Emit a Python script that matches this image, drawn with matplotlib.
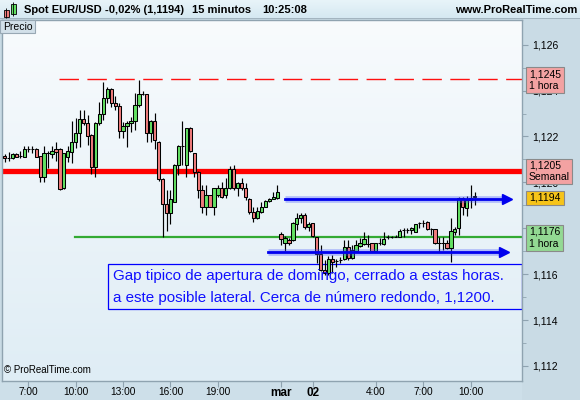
import matplotlib
matplotlib.use('Agg')
import matplotlib.pyplot as plt
import numpy as np
from matplotlib.patches import Rectangle

plt.rcParams['font.family'] = ['Liberation Sans', 'DejaVu Sans']
plt.rcParams['lines.scale_dashes'] = False

# 15 minute candles, EUR/USD (Friday session then Sunday/Monday)
opens = [1.12115, 1.12108, 1.12105, 1.12125, 1.12115, 1.12112, 1.12146, 1.12146, 1.12146, 1.12115,
         1.12025, 1.12127, 1.12125, 1.12146, 1.12146, 1.11974, 1.12112, 1.12134, 1.12176, 1.12214,
         1.12276, 1.12257, 1.12207, 1.12066, 1.12257, 1.12297, 1.12366, 1.12407, 1.12345, 1.12334,
         1.12225, 1.12246, 1.12257, 1.12268, 1.12337, 1.12385, 1.12385, 1.12214, 1.12268, 1.12178,
         1.12015, 1.11904, 1.11865, 1.11916, 1.12076, 1.12159, 1.12076, 1.12236, 1.12127, 1.12047,
         1.11967, 1.11894, 1.11945, 1.11894, 1.11945, 1.11974, 1.11945, 1.11974, 1.12057, 1.11974,
         1.11996, 1.11974, 1.11928, 1.11873, 1.11843, 1.11873, 1.11894, 1.11919, 1.11928, 1.11934,
         1.11774, 1.11735, 1.11749, 1.11749, 1.11817, 1.11847, 1.11858, 1.11804, 1.11822, 1.11761,
         1.11688, 1.11618, 1.11604, 1.11665, 1.11657, 1.11662, 1.11665, 1.11717, 1.11672, 1.11703,
         1.11724, 1.11732, 1.11732, 1.11735, 1.11703, 1.11735, 1.11732, 1.11764, 1.11761, 1.11763,
         1.11763, 1.11792, 1.11792, 1.11792, 1.11785, 1.11822, 1.11822, 1.11826, 1.11797, 1.11797,
         1.11734, 1.11735, 1.11734, 1.11716, 1.11785, 1.11803, 1.11933, 1.11887, 1.11923, 1.11935]
highs = [1.12125, 1.12134, 1.12127, 1.12127, 1.12137, 1.12159, 1.12157, 1.12157, 1.12148, 1.12117,
         1.12159, 1.12137, 1.12157, 1.12178, 1.12148, 1.12128, 1.12159, 1.12268, 1.12282, 1.12317,
         1.12317, 1.12294, 1.12209, 1.12265, 1.12349, 1.12436, 1.12416, 1.12410, 1.12378, 1.12345,
         1.12265, 1.12268, 1.12286, 1.12388, 1.12446, 1.12398, 1.12387, 1.12270, 1.12301, 1.12180,
         1.12017, 1.11967, 1.11967, 1.12078, 1.12161, 1.12268, 1.12238, 1.12243, 1.12129, 1.12049,
         1.11989, 1.11989, 1.11947, 1.11976, 1.11989, 1.12000, 1.12018, 1.12073, 1.12076, 1.12003,
         1.12018, 1.11996, 1.11930, 1.11894, 1.11894, 1.11916, 1.11923, 1.11930, 1.11960, 1.11989,
         1.11785, 1.11766, 1.11756, 1.11829, 1.11865, 1.11865, 1.11865, 1.11829, 1.11825, 1.11763,
         1.11727, 1.11662, 1.11680, 1.11684, 1.11668, 1.11677, 1.11749, 1.11749, 1.11727, 1.11749,
         1.11756, 1.11785, 1.11770, 1.11736, 1.11736, 1.11756, 1.11785, 1.11770, 1.11766, 1.11770,
         1.11795, 1.11800, 1.11800, 1.11807, 1.11818, 1.11829, 1.11836, 1.11832, 1.11803, 1.11798,
         1.11763, 1.11763, 1.11749, 1.11843, 1.11807, 1.11935, 1.11938, 1.11942, 1.11989, 1.11957]
lows = [1.12087, 1.12093, 1.12103, 1.12110, 1.12105, 1.12109, 1.12134, 1.12127, 1.12109, 1.12003,
        1.12003, 1.12064, 1.12105, 1.12093, 1.11965, 1.11972, 1.12087, 1.12085, 1.12151, 1.12156,
        1.12250, 1.12163, 1.12035, 1.12025, 1.12250, 1.12272, 1.12345, 1.12330, 1.12316, 1.12195,
        1.12192, 1.12156, 1.12221, 1.12228, 1.12330, 1.12381, 1.12178, 1.12178, 1.12146, 1.12006,
        1.11764, 1.11788, 1.11817, 1.11914, 1.12032, 1.12076, 1.12025, 1.12134, 1.12025, 1.11931,
        1.11865, 1.11858, 1.11892, 1.11858, 1.11938, 1.11931, 1.11931, 1.11972, 1.11967, 1.11942,
        1.11967, 1.11923, 1.11861, 1.11826, 1.11841, 1.11865, 1.11892, 1.11916, 1.11926, 1.11928,
        1.11727, 1.11703, 1.11727, 1.11746, 1.11793, 1.11822, 1.11796, 1.11790, 1.11761, 1.11647,
        1.11615, 1.11597, 1.11597, 1.11604, 1.11633, 1.11650, 1.11662, 1.11662, 1.11668, 1.11698,
        1.11718, 1.11727, 1.11718, 1.11702, 1.11702, 1.11727, 1.11727, 1.11752, 1.11758, 1.11760,
        1.11762, 1.11763, 1.11778, 1.11774, 1.11784, 1.11803, 1.11807, 1.11792, 1.11770, 1.11733,
        1.11698, 1.11705, 1.11710, 1.11655, 1.11771, 1.11771, 1.11860, 1.11855, 1.11887, 1.11902]
closes = [1.12105, 1.12107, 1.12125, 1.12112, 1.12114, 1.12146, 1.12145, 1.12145, 1.12112, 1.12025,
          1.12127, 1.12126, 1.12137, 1.12134, 1.11971, 1.12127, 1.12137, 1.12176, 1.12214, 1.12276,
          1.12257, 1.12204, 1.12066, 1.12257, 1.12297, 1.12366, 1.12407, 1.12345, 1.12334, 1.12225,
          1.12246, 1.12257, 1.12268, 1.12337, 1.12385, 1.12384, 1.12214, 1.12268, 1.12185, 1.12015,
          1.11904, 1.11865, 1.11928, 1.12076, 1.12159, 1.12158, 1.12236, 1.12137, 1.12047, 1.11967,
          1.11894, 1.11945, 1.11894, 1.11974, 1.11974, 1.11938, 1.11974, 1.12057, 1.11974, 1.11996,
          1.11974, 1.11938, 1.11873, 1.11843, 1.11875, 1.11894, 1.11919, 1.11928, 1.11936, 1.11957,
          1.11752, 1.11756, 1.11735, 1.11822, 1.11847, 1.11858, 1.11807, 1.11819, 1.11766, 1.11688,
          1.11618, 1.11604, 1.11665, 1.11655, 1.11656, 1.11663, 1.11717, 1.11669, 1.11706, 1.11727,
          1.11735, 1.11752, 1.11733, 1.11703, 1.11735, 1.11734, 1.11752, 1.11763, 1.11762, 1.11764,
          1.11788, 1.11791, 1.11793, 1.11803, 1.11817, 1.11821, 1.11823, 1.11797, 1.11796, 1.11734,
          1.11735, 1.11734, 1.11716, 1.11788, 1.11795, 1.11933, 1.11894, 1.11923, 1.11933, 1.11940]

level_1h_high = 1.1245
level_week = 1.1205
level_1h_low = 1.1176
last_price = 1.1194
arrow_high = 1.11926
arrow_low = 1.11698

time_ticks = [6, 18, 30, 42, 54, 70, 78, 94, 106, 118]
time_labels = ['7:00', '10:00', '13:00', '16:00', '19:00', 'mar', '02', '4:00', '7:00', '10:00']
price_ticks = [1.112, 1.114, 1.116, 1.118, 1.120, 1.122, 1.124, 1.126]

W, H = 580, 400
fig = plt.figure(figsize=(W / 100, H / 100), dpi=100, facecolor='#c9dbe5')


def fx(x):
    return x / W


def fy(y):
    return 1 - y / H


# bottom band (time axis)
fig.patches.append(Rectangle((0, 0), fx(522), fy(381), transform=fig.transFigure,
                             facecolor='#cddfe9', edgecolor='none', zorder=-1))

ax = fig.add_axes([fx(2), fy(381), fx(520), fy(20) - fy(381)])
grad = np.linspace(0, 1, 256).reshape(-1, 1)
ax.imshow(grad, extent=[0, 1, 0, 1], transform=ax.transAxes, aspect='auto', zorder=0,
          cmap=matplotlib.colors.LinearSegmentedColormap.from_list('bg', ['#f8fbfd', '#dfedf5']))

x = np.arange(len(opens))
o = np.array(opens)
c = np.array(closes)
cols = np.where(c >= o, '#62e062', '#f07c7c')

ax.set_xlim(-0.66, 131)
ax.set_ylim(1.111346, 1.127076)

# levels
ax.plot([13.8, 131], [level_1h_high] * 2, color='#ff1010', lw=1.0, dashes=(14, 6.1), zorder=2)
ax.axhline(level_week, color='#ff0000', lw=3.8, zorder=2)
ax.plot([17.8, 131], [level_1h_low] * 2, color='#33aa33', lw=1.6, zorder=2)

# text box
ax.add_patch(Rectangle((26.2, 1.114484), 131 - 26.2, 1.116444 - 1.114484,
                       facecolor='none', edgecolor='#0000ff', lw=0.9, zorder=1))
ax.text(27.5, 1.11592, 'Gap tipico de apertura de domingo, cerrado a estas horas.',
        color='#1010ff', fontsize=10.9, va='center', zorder=4)
ax.text(27.5, 1.11496, 'a este posible lateral. Cerca de número redondo, 1,1200.',
        color='#1010ff', fontsize=10.9, va='center', zorder=4)

# candles
ax.vlines(x, lows, highs, color='black', lw=0.85, zorder=3)
ax.bar(x, np.abs(c - o), bottom=np.minimum(o, c), width=0.82, color=cols,
       edgecolor='black', linewidth=0.75, zorder=3)

# arrows
for y0, xa, xb in [(arrow_high, 71, 126.6), (arrow_low, 66.7, 125.9)]:
    ax.plot([xa, xb], [y0, y0], color='#4455ff', lw=4.8, alpha=0.35, zorder=3,
            solid_capstyle='butt')
    ax.plot([xa, xb], [y0, y0], color='#0000ee', lw=2.0, zorder=3)
    ax.plot([xb + 0.6], [y0], marker='>', color='#0000ee', markersize=7.5, zorder=3)

# axes styling
for s in ax.spines.values():
    s.set_color('#8fa3b0')
    s.set_linewidth(1.0)
ax.yaxis.tick_right()
ax.set_yticks(price_ticks)
ax.set_yticklabels([('%.3f' % p).replace('.', ',') for p in price_ticks])
ax.set_yticks([1.113, 1.115, 1.117, 1.119, 1.121, 1.123, 1.125], minor=True)
ax.tick_params(axis='y', which='major', direction='out', length=4, color='#8fa3b0',
               labelsize=7.5, pad=3)
ax.tick_params(axis='y', which='minor', direction='out', length=3, color='#8fa3b0')
ax.set_xticks(time_ticks)
ax.set_xticklabels(time_labels)
ax.tick_params(axis='x', direction='out', length=4, color='#8fa3b0', labelsize=7.3, pad=0.5)
for t in ax.get_xticklabels():
    if t.get_text() in ('mar', '02'):
        t.set_fontweight('bold')
        t.set_fontsize(8.5)

ax.text(0.004, 0.022, '© ProRealTime.com', transform=ax.transAxes, fontsize=7, zorder=4)

# Precio tag
fig.patches.append(Rectangle((0, fy(33)), fx(35), fy(20) - fy(33), transform=fig.transFigure,
                             facecolor='#d2e0e9', edgecolor='#98a8b4', lw=0.8, zorder=5))
fig.text(fx(3), fy(26.5), 'Precio', fontsize=7.5, va='center', zorder=6)


# right side level tags
def tag(y0, y1, x1, lines, color):
    fig.patches.append(Rectangle((fx(526), fy(y1)), fx(x1 - 526), fy(y0) - fy(y1),
                                 transform=fig.transFigure, facecolor=color,
                                 edgecolor='#8a8a8a', lw=0.8, zorder=5))
    fig.text(fx(529), fy((y0 + y1) / 2), '\n'.join(lines), fontsize=7.5, va='center',
             linespacing=1.3, zorder=6)


tag(67.5, 93, 564, [('%.4f' % level_1h_high).replace('.', ','), '1 hora'], '#f3a2a2')
tag(158.5, 184, 572, [('%.4f' % level_week).replace('.', ','), 'Semanal'], '#f3a2a2')
tag(190.5, 204.5, 564, [('%.4f' % last_price).replace('.', ',')], '#f6c419')
tag(225, 251, 563, [('%.4f' % level_1h_low).replace('.', ','), '1 hora'], '#93d993')

# header bar
hx = fig.add_axes([0, fy(19), 1, 1 - fy(19)])
hx.imshow(grad, extent=[0, W, 19, 0], aspect='auto',
          cmap=matplotlib.colors.LinearSegmentedColormap.from_list('hd', ['#e8f4f9', '#d4e8f1']))
hx.set_xlim(0, W)
hx.set_ylim(19, 0)
hx.axis('off')
hx.axhline(18.5, color='#9aabb7', lw=1.2)
hx.add_patch(Rectangle((4, 10), 4.5, 7, facecolor='#f07c7c', edgecolor='black', lw=0.6))
hx.vlines(6.25, 8, 18, color='black', lw=0.6)
hx.add_patch(Rectangle((11, 4), 4.5, 10, facecolor='#62e062', edgecolor='black', lw=0.6))
hx.vlines(13.25, 2, 16, color='black', lw=0.6)
hx.text(24, 10, 'Spot EUR/USD', fontsize=8, fontweight='bold', va='center')
hx.text(105, 10, '-0,02% (1,1194)', fontsize=8, fontweight='bold', va='center')
hx.text(192, 10, '15 minutos', fontsize=8, fontweight='bold', va='center')
hx.text(262, 10, '10:25:08', fontsize=8, fontweight='bold', va='center')
hx.text(577, 10, 'www.ProRealTime.com', fontsize=8, fontweight='bold', va='center', ha='right')

fig.savefig('out.png', dpi=100, facecolor=fig.get_facecolor())
